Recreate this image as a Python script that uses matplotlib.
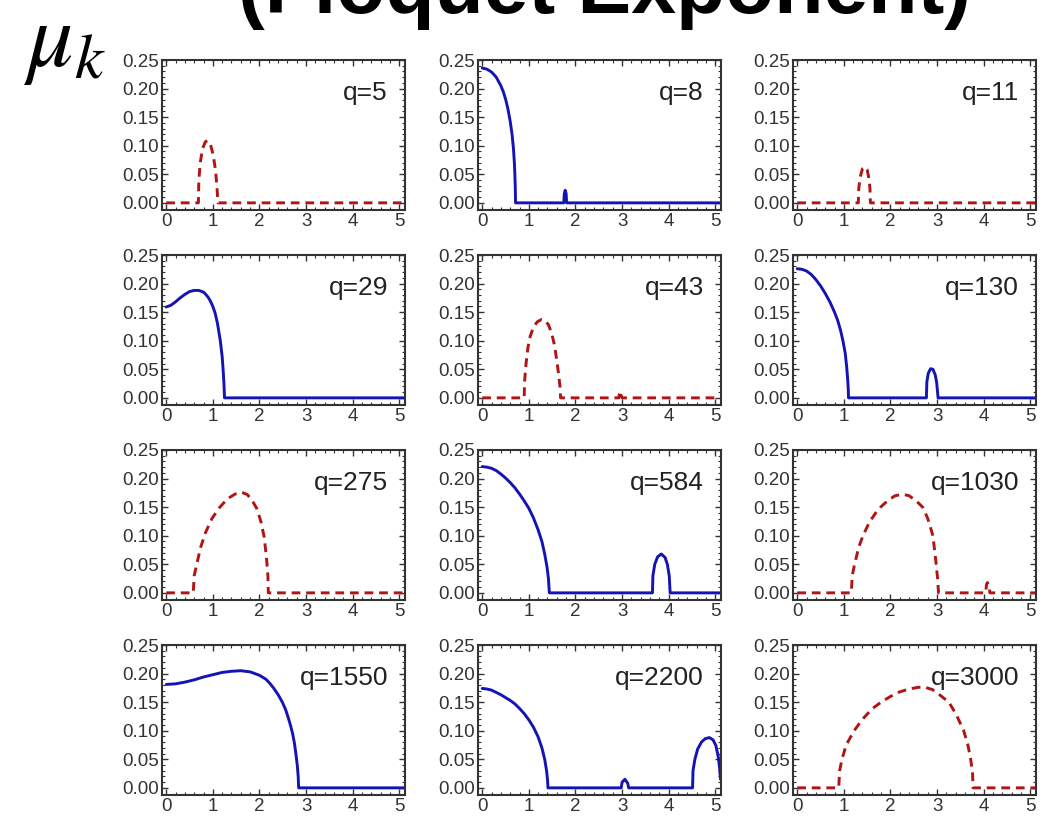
import matplotlib.pyplot as plt
from matplotlib.ticker import MultipleLocator, FormatStrFormatter

plt.rcParams['font.family'] = ['Liberation Sans', 'DejaVu Sans']
plt.rcParams['mathtext.fontset'] = 'stix'

# panel labels, in reading order
q_labels = ['q=5', 'q=8', 'q=11', 'q=29', 'q=43', 'q=130',
            'q=275', 'q=584', 'q=1030', 'q=1550', 'q=2200', 'q=3000']
# 'solid' = blue, 'dashed' = red
styles = ['dashed', 'solid', 'dashed', 'solid', 'dashed', 'solid',
          'dashed', 'solid', 'dashed', 'solid', 'solid', 'dashed']

# k values and mu_k values
k_q5 = [0, 0.69, 0.70, 0.73, 0.78, 0.84, 0.89, 0.95, 1.01, 1.06, 1.09, 1.11, 5.1]
mu_q5 = [0, 0, 0.04, 0.07, 0.095, 0.107, 0.109, 0.102, 0.083, 0.055, 0.025, 0, 0]

k_q8 = [0, 0.1, 0.2, 0.3, 0.4, 0.45, 0.5, 0.55, 0.6, 0.64, 0.67, 0.69, 0.70,
        0.71, 0.715, 1.75, 1.76, 1.78, 1.80, 1.81, 5.1]
mu_q8 = [0.236, 0.234, 0.229, 0.220, 0.205, 0.195, 0.182, 0.165, 0.143, 0.120,
         0.095, 0.070, 0.050, 0.025, 0, 0, 0.016, 0.022, 0.016, 0, 0]

k_q11 = [0, 1.31, 1.32, 1.35, 1.40, 1.45, 1.50, 1.54, 1.56, 1.57, 5.1]
mu_q11 = [0, 0, 0.025, 0.045, 0.06, 0.063, 0.058, 0.042, 0.025, 0, 0]

k_q29 = [0, 0.1, 0.2, 0.3, 0.4, 0.5, 0.6, 0.7, 0.8, 0.85, 0.9, 0.95, 1.0, 1.05,
         1.1, 1.16, 1.2, 1.22, 1.24, 1.25, 5.1]
mu_q29 = [0.159, 0.162, 0.168, 0.175, 0.181, 0.186, 0.188, 0.188, 0.185, 0.181,
          0.176, 0.169, 0.160, 0.148, 0.130, 0.100, 0.072, 0.050, 0.022, 0, 0]

k_q43 = [0, 0.90, 0.91, 0.94, 0.98, 1.03, 1.10, 1.18, 1.27, 1.34, 1.42, 1.49,
         1.55, 1.60, 1.64, 1.67, 1.68, 2.93, 2.95, 2.98, 3.0, 5.1]
mu_q43 = [0, 0, 0.03, 0.06, 0.088, 0.108, 0.124, 0.133, 0.137, 0.136, 0.128, 0.113,
          0.092, 0.065, 0.04, 0.018, 0, 0, 0.012, 0.004, 0, 0]

k_q130 = [0, 0.1, 0.2, 0.3, 0.4, 0.5, 0.6, 0.7, 0.8, 0.87, 0.93, 0.98, 1.03,
          1.06, 1.08, 1.095, 1.10, 2.77, 2.78, 2.81, 2.86, 2.91, 2.96, 2.99,
          3.01, 3.02, 5.1]
mu_q130 = [0.226, 0.225, 0.222, 0.216, 0.207, 0.196, 0.183, 0.168, 0.150, 0.135,
           0.118, 0.100, 0.078, 0.055, 0.035, 0.015, 0, 0, 0.028, 0.043, 0.051,
           0.050, 0.040, 0.027, 0.01, 0, 0]

k_q275 = [0, 0.58, 0.60, 0.66, 0.74, 0.84, 0.98, 1.15, 1.32, 1.48, 1.62, 1.74,
          1.84, 1.94, 2.03, 2.10, 2.15, 2.18, 2.19, 5.1]
mu_q275 = [0, 0, 0.03, 0.052, 0.08, 0.105, 0.13, 0.15, 0.165, 0.173, 0.176,
           0.172, 0.162, 0.148, 0.125, 0.098, 0.062, 0.03, 0, 0]

k_q584 = [0, 0.1, 0.2, 0.3, 0.4, 0.5, 0.6, 0.7, 0.8, 0.9, 1.0, 1.1, 1.2, 1.28,
          1.34, 1.39, 1.42, 1.44, 3.65, 3.66, 3.70, 3.76, 3.84, 3.92, 3.97,
          4.01, 4.03, 5.1]
mu_q584 = [0.221, 0.220, 0.218, 0.214, 0.208, 0.201, 0.193, 0.184, 0.173, 0.161,
           0.148, 0.131, 0.110, 0.090, 0.068, 0.045, 0.025, 0, 0, 0.03, 0.05,
           0.063, 0.068, 0.062, 0.05, 0.03, 0, 0]

k_q1030 = [0, 1.16, 1.18, 1.23, 1.32, 1.41, 1.55, 1.70, 1.80, 1.95, 2.10, 2.26,
           2.40, 2.55, 2.69, 2.80, 2.91, 2.98, 3.01, 3.03, 4.04, 4.06, 4.08,
           4.12, 4.13, 5.1]
mu_q1030 = [0, 0, 0.03, 0.05, 0.08, 0.10, 0.124, 0.142, 0.151, 0.162, 0.17,
            0.1725, 0.17, 0.161, 0.15, 0.13, 0.10, 0.05, 0.025, 0, 0, 0.015,
            0.018, 0.01, 0, 0]

k_q1550 = [0, 0.2, 0.4, 0.6, 0.8, 1.0, 1.2, 1.4, 1.6, 1.8, 2.0, 2.14, 2.22, 2.3,
           2.4, 2.49, 2.56, 2.62, 2.67, 2.71, 2.75, 2.78, 2.81, 2.83, 2.84, 5.1]
mu_q1550 = [0.181, 0.182, 0.185, 0.189, 0.194, 0.198, 0.202, 0.204, 0.205, 0.203,
            0.197, 0.190, 0.183, 0.175, 0.163, 0.150, 0.137, 0.122, 0.108, 0.095,
            0.078, 0.060, 0.040, 0.020, 0, 0]

k_q2200 = [0, 0.1, 0.2, 0.3, 0.4, 0.5, 0.6, 0.7, 0.8, 0.9, 1.0, 1.1, 1.2, 1.28,
           1.34, 1.38, 1.40, 1.41, 2.98, 3.00, 3.06, 3.12, 3.14, 4.51, 4.52, 4.56,
           4.62, 4.70, 4.78, 4.87, 4.95, 5.01, 5.06, 5.09, 5.11]
mu_q2200 = [0.174, 0.173, 0.171, 0.167, 0.163, 0.158, 0.153, 0.147, 0.139, 0.130,
            0.119, 0.106, 0.089, 0.070, 0.050, 0.030, 0.015, 0, 0, 0.01, 0.015,
            0.008, 0, 0, 0.03, 0.05, 0.068, 0.080, 0.086, 0.088, 0.084, 0.074,
            0.055, 0.035, 0.015]

k_q3000 = [0, 0.89, 0.91, 0.96, 1.05, 1.22, 1.4, 1.6, 1.8, 2.0, 2.2, 2.4, 2.6,
           2.74, 2.9, 3.05, 3.25, 3.4, 3.57, 3.66, 3.72, 3.76, 3.77, 5.1]
mu_q3000 = [0, 0, 0.03, 0.05, 0.075, 0.10, 0.12, 0.138, 0.15, 0.16, 0.168, 0.173,
            0.176, 0.176, 0.172, 0.163, 0.15, 0.13, 0.10, 0.075, 0.05, 0.025, 0, 0]

k_all = [k_q5, k_q8, k_q11, k_q29, k_q43, k_q130,
         k_q275, k_q584, k_q1030, k_q1550, k_q2200, k_q3000]
mu_all = [mu_q5, mu_q8, mu_q11, mu_q29, mu_q43, mu_q130,
          mu_q275, mu_q584, mu_q1030, mu_q1550, mu_q2200, mu_q3000]

x_ticks = [0, 1, 2, 3, 4, 5]

W, H = 1048, 817
fig = plt.figure(figsize=(W / 100, H / 100), dpi=100)

col_left = [162, 478, 793]
row_top = [60, 255, 450, 645]
ax_w, ax_h = 243, 150

frame_col = '#333333'
for i in range(12):
    r, c = divmod(i, 3)
    ax = fig.add_axes([col_left[c] / W, 1 - (row_top[r] + ax_h) / H, ax_w / W, ax_h / H])
    if styles[i] == 'solid':
        ax.plot(k_all[i], mu_all[i], color='#1414b4', lw=2.1,
                solid_joinstyle='round', solid_capstyle='round')
    else:
        ax.plot(k_all[i], mu_all[i], color='#b01414', lw=2.1, linestyle=(0, (3, 2)))
    ax.set_xlim(-0.09, 5.12)
    ax.set_ylim(-0.0125, 0.25)
    ax.set_xticks(x_ticks)
    ax.yaxis.set_major_locator(MultipleLocator(0.05))
    ax.yaxis.set_major_formatter(FormatStrFormatter('%.2f'))
    ax.xaxis.set_minor_locator(MultipleLocator(0.2))
    ax.yaxis.set_minor_locator(MultipleLocator(0.01))
    ax.tick_params(which='both', direction='in', top=True, right=True,
                   color=frame_col, labelcolor='#333333', labelsize=13.5)
    ax.tick_params(which='major', length=4.5, width=1.0, pad=2.5)
    ax.tick_params(which='minor', length=2.5, width=0.8)
    for s in ax.spines.values():
        s.set_color(frame_col)
        s.set_linewidth(1.5)
    ax.text(0.93, 0.735, q_labels[i], transform=ax.transAxes, ha='right',
            va='baseline', fontsize=19, color='#222222')

fig.text(604 / W, 1 - 13 / H, '(Floquet Exponent)', ha='center', va='baseline',
         fontsize=58, fontweight='bold')
fig.text(23 / W, 1 - 66 / H, r'$\mu_k$', ha='left', va='baseline', fontsize=66)

fig.savefig('out.png', dpi=100)
